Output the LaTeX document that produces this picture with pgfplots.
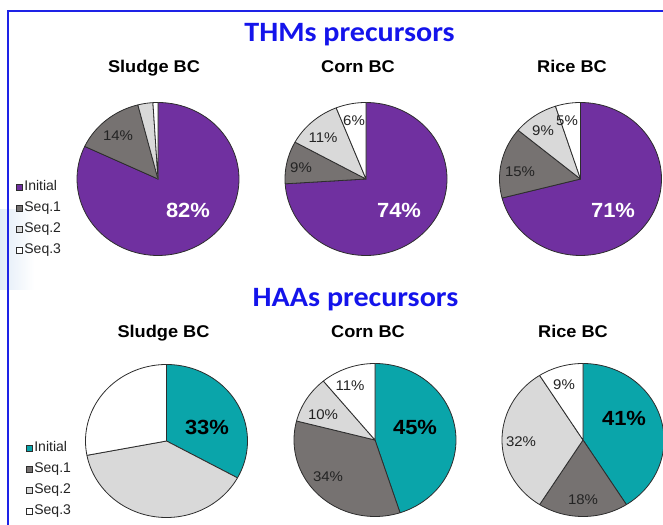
\documentclass[border=0pt]{standalone}
\usepackage{fontspec}
\setmainfont{Liberation Sans}
\newfontfamily\carlito{Carlito}
\usepackage{pgfplots}
\usepackage{pgfplotstable}
\pgfplotsset{compat=1.18}

\definecolor{thmini}{RGB}{112,48,160}
\definecolor{haaini}{RGB}{10,165,170}
\definecolor{seqone}{RGB}{118,114,113}
\definecolor{seqtwo}{RGB}{217,217,217}
\definecolor{seqthree}{RGB}{255,255,255}
\definecolor{pieedge}{RGB}{45,45,45}
\definecolor{titleblue}{RGB}{20,20,235}
\definecolor{frameblue}{RGB}{30,35,230}
\definecolor{paleblue}{RGB}{226,236,247}
\definecolor{labelgray}{RGB}{35,35,35}

% shares (%) of precursors, Initial / Seq.1 / Seq.2 / Seq.3
\pgfplotstableread{
seq sludge corn rice
Initial 82 74 71
Seq1 14 9 15
Seq2 3 11 9
Seq3 1 6 5
}\thms
\pgfplotstableread{
seq sludge corn rice
Initial 33 45 41
Seq1 0 34 18
Seq2 39 10 32
Seq3 28 11 9
}\haas

% one slice from cumulative share #1 to #2 (clockwise from 12 o'clock)
\newcommand\pieslice[3]{%
  \pgfmathsetmacro\sa{90-3.6*(#2)}%
  \pgfmathsetmacro\sb{90-3.6*(#1)}%
  \edef\doslice{\noexpand\addplot[fill=#3, draw=pieedge, line width=0.8pt,
     line join=round, domain=\sa:\sb, samples=90, forget plot]
     ({cos(x)},{sin(x)}) -- (axis cs:0,0) -- cycle;}%
  \doslice}
\newcommand\drawpie[3]{%
  \pgfplotstablegetelem{0}{#2}\of#1\let\pa\pgfplotsretval
  \pgfplotstablegetelem{1}{#2}\of#1\let\pb\pgfplotsretval
  \pgfplotstablegetelem{2}{#2}\of#1\let\pc\pgfplotsretval
  \pgfplotstablegetelem{3}{#2}\of#1\let\pd\pgfplotsretval
  \pgfmathsetmacro\ca{\pa}%
  \pgfmathsetmacro\cb{\ca+\pb}%
  \pgfmathsetmacro\cc{\cb+\pc}%
  \pgfmathsetmacro\cd{\cc+\pd}%
  \ifdim\pa pt>0pt \pieslice{0}{\ca}{#3}\fi
  \ifdim\pb pt>0pt \pieslice{\ca}{\cb}{seqone}\fi
  \ifdim\pc pt>0pt \pieslice{\cb}{\cc}{seqtwo}\fi
  \ifdim\pd pt>0pt \pieslice{\cc}{\cd}{seqthree}\fi
}

\pgfplotsset{
  pie/.style={scale only axis, width=162pt, height=153pt,
    xmin=-1, xmax=1, ymin=-1, ymax=1, hide axis, clip=false, anchor=center},
  pielegend/.style={
    legend image code/.code={\draw[##1, draw=pieedge, line width=0.7pt] (0pt,-3pt) rectangle (6pt,3pt);},
    legend cell align=left,
    legend style={draw=none, fill=none, inner sep=0pt, row sep=8.7pt,
      font=\fontsize{14}{14}\selectfont, text=labelgray,
      nodes={inner sep=0pt, text height=9.3pt, text depth=3pt},
      /tikz/every odd column/.append style={column sep=1.4pt}}
  }
}

\tikzset{
  small/.style={inner sep=0pt, xscale=1.07, text=labelgray, font=\fontsize{14}{14}\selectfont},
  big/.style={inner sep=0pt, xscale=1.07, font=\fontsize{20.5}{20.5}\selectfont\bfseries},
  sub/.style={inner sep=0pt, anchor=base, xscale=1.07, font=\fontsize{17}{17}\selectfont\bfseries},
  ttl/.style={inner sep=0pt, anchor=base, xscale=1.075, text=titleblue, font=\fontsize{28}{28}\selectfont\carlito\bfseries}
}

\begin{document}
\begin{tikzpicture}[x=1pt,y=1pt]
\useasboundingbox (0,0) rectangle (663,524);
\clip (0,0) rectangle (663,524);
\shade[left color=paleblue, right color=white] (0,234) rectangle (34,314);
\draw[frameblue, line width=2pt] (8,-3) -- (8,513) -- (670,513);

% ---------------- THMs ----------------
\node[ttl] at (349.5,482) {THMs precursors};
\node[sub] at (154,451) {Sludge BC};
\node[sub] at (358,451) {Corn BC};
\node[sub] at (572,451) {Rice BC};

\begin{axis}[pie, pielegend, at={(158pt,345pt)},
  legend style={at={(-0.376,0.489)}, anchor=north west}]
  \drawpie{\thms}{sludge}{thmini}
  \addlegendimage{fill=thmini}\addlegendentry{Initial}
  \addlegendimage{fill=seqone}\addlegendentry{Seq.1}
  \addlegendimage{fill=seqtwo}\addlegendentry{Seq.2}
  \addlegendimage{fill=seqthree}\addlegendentry{Seq.3}
\end{axis}
\begin{axis}[pie, at={(366pt,345pt)}]
  \drawpie{\thms}{corn}{thmini}
\end{axis}
\begin{axis}[pie, at={(580.5pt,345pt)}]
  \drawpie{\thms}{rice}{thmini}
\end{axis}

\node[big, text=white] at (188,314) {82\%};
\node[small] at (118,388) {14\%};
\node[big, text=white] at (399,314) {74\%};
\node[small] at (301,356) {9\%};
\node[small] at (323,386) {11\%};
\node[small] at (354,403) {6\%};
\node[big, text=white] at (613,314) {71\%};
\node[small] at (520,352) {15\%};
\node[small] at (543,393) {9\%};
\node[small] at (567,403) {5\%};

% ---------------- HAAs ----------------
\node[ttl] at (355.5,217) {HAAs precursors};
\node[sub] at (163.5,186) {Sludge BC};
\node[sub] at (368,186) {Corn BC};
\node[sub] at (573,186) {Rice BC};

\begin{axis}[pie, pielegend, at={(166.5pt,83pt)},
  legend style={at={(-0.367,0.4935)}, anchor=north west}]
  \drawpie{\haas}{sludge}{haaini}
  \addlegendimage{fill=haaini}\addlegendentry{Initial}
  \addlegendimage{fill=seqone}\addlegendentry{Seq.1}
  \addlegendimage{fill=seqtwo}\addlegendentry{Seq.2}
  \addlegendimage{fill=seqthree}\addlegendentry{Seq.3}
\end{axis}
\begin{axis}[pie, at={(375pt,84pt)}]
  \drawpie{\haas}{corn}{haaini}
\end{axis}
\begin{axis}[pie, at={(583pt,84pt)}]
  \drawpie{\haas}{rice}{haaini}
\end{axis}

\node[big] at (207,97) {33\%};
\node[big] at (415,97) {45\%};
\node[small] at (323,109) {10\%};
\node[small] at (350,138) {11\%};
\node[small] at (328,47) {34\%};
\node[big] at (624,106) {41\%};
\node[small] at (521,82) {32\%};
\node[small] at (583,24) {18\%};
\node[small] at (564,139) {9\%};
\end{tikzpicture}
\end{document}
